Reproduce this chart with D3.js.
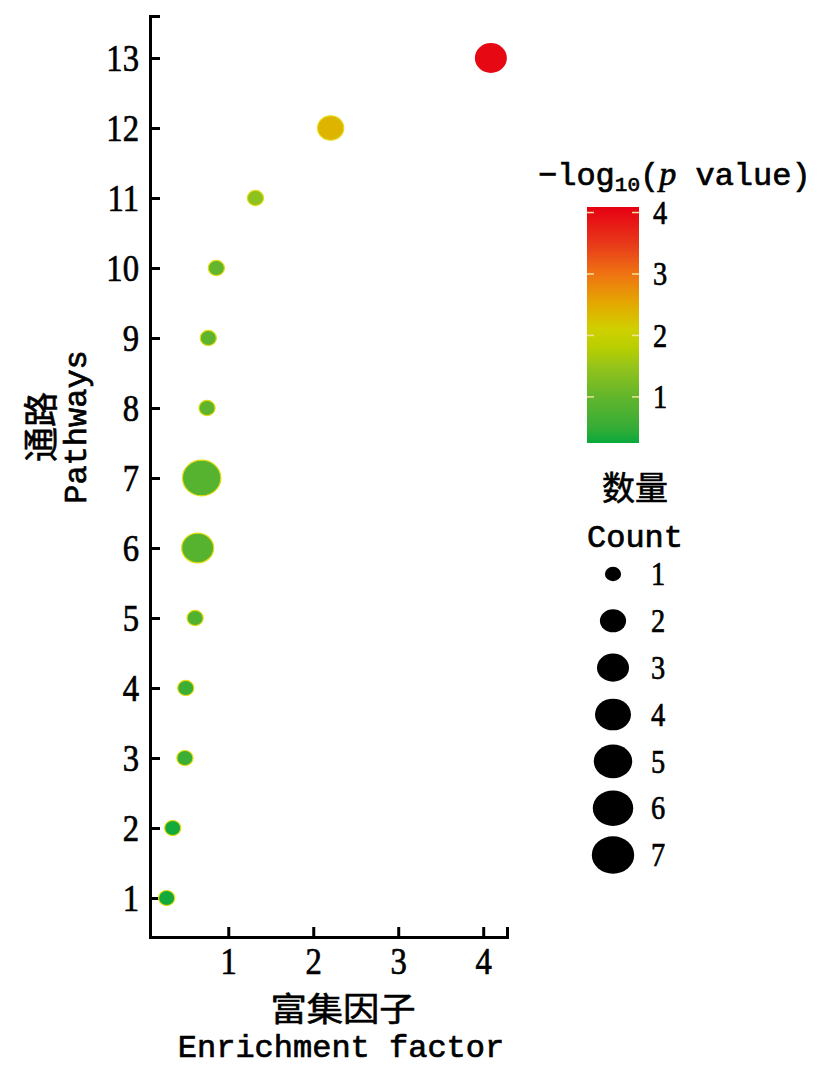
<!DOCTYPE html>
<html>
<head>
<meta charset="utf-8">
<script src="https://cdn.jsdelivr.net/npm/d3@7"></script>
<style>
  html, body { margin: 0; padding: 0; background: #fff; }
  svg { display: block; }
</style>
</head>
<body>
<svg id="chart" width="818" height="1068"></svg>
<script>
// ---------- data ----------
const pathways   = [1, 2, 3, 4, 5, 6, 7, 8, 9, 10, 11, 12, 13];
const enrichment = [0.275, 0.346, 0.49, 0.50, 0.61, 0.64, 0.687, 0.75, 0.765, 0.86, 1.32, 2.205, 4.09];
const negLogP    = [0.3, 0.3, 0.55, 0.55, 0.8, 0.85, 0.85, 0.95, 0.95, 1.0, 1.4, 2.4, 4.0];
const counts     = [1, 1, 1, 1, 1, 3, 5, 1, 1, 1, 1, 2, 3];
const xTicks     = [1, 2, 3, 4];
const yTicks     = [1, 2, 3, 4, 5, 6, 7, 8, 9, 10, 11, 12, 13];
const colorTicks = [1, 2, 3, 4];
const countLegend = [1, 2, 3, 4, 5, 6, 7];
const colorStops  = [0.25, 0.5, 1.0, 1.5, 1.8, 2.1, 2.5, 3.0, 3.5, 4.09];
const colorValues = ["#0aa83c", "#36ad36", "#62b52c", "#96c41a", "#b8cf00", "#cfd000", "#e3aa00", "#ef7312", "#e8381a", "#e60012"];
const sizeSteps   = [1, 2, 3, 4, 5, 6, 7];
const sizeRadii   = [8.1, 13.1, 16, 18, 19.2, 20.2, 21.2];

const data = pathways.map((p, i) => ({ p, ef: enrichment[i], v: negLogP[i], n: counts[i] }));

// ---------- setup ----------
const svg = d3.select("#chart");
const numFont = "'Liberation Serif', 'Times New Roman', serif";
const monoFont = "'Liberation Mono', 'Courier New', monospace";
const cjkFont = "'Noto Sans CJK SC', sans-serif";
const digitSquash = 0.86;
const heavy = sel => sel.attr("stroke", "#000").attr("stroke-width", 0.7);
const heavyCjk = sel => sel.attr("stroke", "#000").attr("stroke-width", 0.6);

const x = d3.scaleLinear().domain([0.079, 4.28]).range([150, 507]);
const y = d3.scaleLinear().domain([0.443, 13.6]).range([937, 16]);
const color = d3.scaleLinear().domain(colorStops).range(colorValues).clamp(true);
const rScale = d3.scaleLinear().domain(sizeSteps).range(sizeRadii);

// ---------- axes ----------
const yAxis = d3.axisLeft(y).tickValues(yTicks).tickSizeInner(-10).tickSizeOuter(-10).tickFormat(d3.format("d"));
const gy = svg.append("g").attr("transform", `translate(${x.range()[0]},0)`).call(yAxis);
gy.selectAll("path, line").attr("stroke", "#000").attr("stroke-width", 3);
gy.selectAll("text")
  .attr("font-family", numFont).attr("font-size", 38).attr("fill", "#000")
  .attr("x", -11 / digitSquash).attr("dy", "0.33em")
  .attr("transform", `scale(${digitSquash},1)`)
  .call(heavy);

const xAxis = d3.axisBottom(x).tickValues(xTicks).tickSizeInner(-10).tickSizeOuter(-10).tickFormat(d3.format("d"));
const gx = svg.append("g").attr("transform", `translate(0,${y.range()[0]})`).call(xAxis);
gx.selectAll("path, line").attr("stroke", "#000").attr("stroke-width", 3);
gx.selectAll("text")
  .attr("font-family", numFont).attr("font-size", 38).attr("fill", "#000")
  .attr("x", 0).attr("y", 37).attr("dy", 0)
  .attr("transform", `scale(${digitSquash},1)`)
  .call(heavy);

// ---------- dots ----------
svg.append("g").selectAll("ellipse").data(data).join("ellipse")
  .attr("cx", d => x(d.ef))
  .attr("cy", d => y(d.p))
  .attr("rx", d => rScale(d.n))
  .attr("ry", d => rScale(d.n) * 0.93)
  .attr("fill", d => color(d.v))
  .attr("stroke", d => d.v > 3.5 ? "none" : "#e4dc10")
  .attr("stroke-width", 1.2);

// ---------- axis titles ----------
svg.append("text").attr("x", 343 / 1.1).attr("y", 1021).attr("text-anchor", "middle")
  .attr("font-family", cjkFont).attr("font-size", 33).attr("fill", "#000")
  .attr("transform", "scale(1.1,1)")
  .call(heavyCjk)
  .text("富集因子");
svg.append("text").attr("x", 341).attr("y", 1057).attr("text-anchor", "middle")
  .attr("font-family", monoFont).attr("font-size", 32).attr("fill", "#000")
  .call(heavy)
  .text("Enrichment factor");

const yt = svg.append("g").attr("transform", "translate(0,427) rotate(-90)");
yt.append("text").attr("x", 0).attr("y", 54).attr("text-anchor", "middle")
  .attr("font-family", cjkFont).attr("font-size", 35).attr("fill", "#000")
  .call(heavyCjk)
  .text("通路");
yt.append("text").attr("x", 0).attr("y", 86).attr("text-anchor", "middle")
  .attr("font-family", monoFont).attr("font-size", 32).attr("fill", "#000")
  .call(heavy)
  .text("Pathways");

// ---------- colour bar ----------
const cbX0 = 587, cbW = 52;
const cbY = d3.scaleLinear().domain([colorStops[0], colorStops[colorStops.length - 1]]).range([443, 207]);

const defs = svg.append("defs");
const grad = defs.append("linearGradient").attr("id", "cbgrad")
  .attr("x1", 0).attr("y1", 1).attr("x2", 0).attr("y2", 0);
const dom = cbY.domain();
grad.selectAll("stop").data(colorStops).join("stop")
  .attr("offset", d => (d - dom[0]) / (dom[1] - dom[0]))
  .attr("stop-color", d => color(d));

svg.append("rect").attr("x", cbX0).attr("y", cbY.range()[1])
  .attr("width", cbW).attr("height", cbY.range()[0] - cbY.range()[1])
  .attr("fill", "url(#cbgrad)");

const cbTicks = svg.append("g");
colorTicks.forEach(t => {
  cbTicks.append("line").attr("x1", cbX0).attr("x2", cbX0 + 7)
    .attr("y1", cbY(t)).attr("y2", cbY(t)).attr("stroke", "#f3e39a").attr("stroke-width", 1.5);
  cbTicks.append("line").attr("x1", cbX0 + cbW - 7).attr("x2", cbX0 + cbW)
    .attr("y1", cbY(t)).attr("y2", cbY(t)).attr("stroke", "#f3e39a").attr("stroke-width", 1.5);
  cbTicks.append("text")
    .attr("x", 653 / digitSquash).attr("y", cbY(t)).attr("dy", "0.34em")
    .attr("transform", `scale(${digitSquash},1)`)
    .attr("font-family", numFont).attr("font-size", 33).attr("fill", "#000")
    .call(heavy)
    .text(t);
});

const cbTitle = svg.append("text").attr("x", 538).attr("y", 185)
  .attr("font-family", monoFont).attr("font-size", 32).attr("fill", "#000")
  .call(heavy);
cbTitle.append("tspan").text("\u2212log");
cbTitle.append("tspan").attr("font-size", 21).attr("dy", 6).text("10");
cbTitle.append("tspan").attr("dy", -6).text("(");
cbTitle.append("tspan").attr("font-style", "italic").attr("font-family", numFont).attr("font-size", 34).text("p");
cbTitle.append("tspan").text(" value)");

// ---------- count legend ----------
svg.append("text").attr("x", 635).attr("y", 500).attr("text-anchor", "middle")
  .attr("font-family", cjkFont).attr("font-size", 33).attr("fill", "#000")
  .call(heavyCjk)
  .text("数量");
svg.append("text").attr("x", 635).attr("y", 547).attr("text-anchor", "middle")
  .attr("font-family", monoFont).attr("font-size", 32).attr("fill", "#000")
  .call(heavy)
  .text("Count");

const legY = d3.scalePoint().domain(countLegend).range([574, 855]);
const leg = svg.append("g");
leg.selectAll("ellipse").data(countLegend).join("ellipse")
  .attr("cx", 613).attr("cy", d => legY(d))
  .attr("rx", d => rScale(d)).attr("ry", d => rScale(d) * 0.88)
  .attr("fill", "#000");
leg.selectAll("text").data(countLegend).join("text")
  .attr("x", 651 / digitSquash).attr("y", d => legY(d)).attr("dy", "0.34em")
  .attr("transform", `scale(${digitSquash},1)`)
  .attr("font-family", numFont).attr("font-size", 33).attr("fill", "#000")
  .call(heavy)
  .text(d => d);
</script>
</body>
</html>
